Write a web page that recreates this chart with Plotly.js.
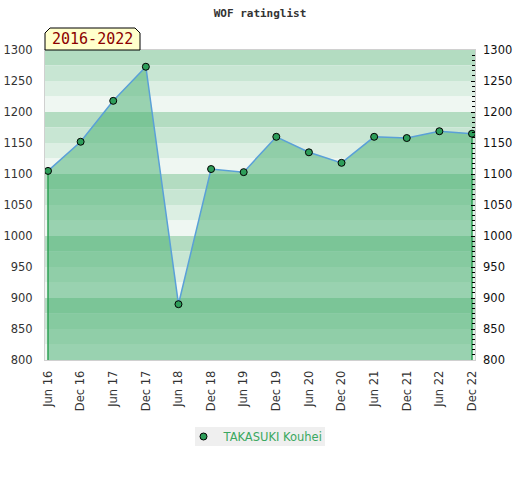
<!DOCTYPE html>
<html>
<head>
<meta charset="utf-8">
<script src="https://cdn.plot.ly/plotly-3.0.1.min.js"></script>
<style>html,body{margin:0;padding:0;background:#fff}</style>
</head>
<body>
<div id="chart" style="width:520px;height:480px"></div>
<script>
var periods = ["Jun 16","Dec 16","Jun 17","Dec 17","Jun 18","Dec 18","Jun 19","Dec 19","Jun 20","Dec 20","Jun 21","Dec 21","Jun 22","Dec 22"];
var ratings = [1105,1152,1218,1273,890,1108,1103,1160,1135,1118,1160,1158,1169,1165];
var playerName = "TAKASUKI Kouhei";
var yMin = 800, yMax = 1300;

var xs = periods.map(function(_, i){ return i; });
var bandColors = ["#b3dcc1","#c8e6d3","#dcefe3","#eff7f2"];
var shapes = [];
for (var u = yMax, k = 0; u > yMin; u -= 25, k++) {
  shapes.push({type:"rect", xref:"paper", yref:"y", x0:0, x1:1, y0:u-25, y1:u,
    fillcolor:bandColors[k % 4], line:{width:0}, layer:"below"});
}
var W = 430, H = 310;
// tab with cut corners (paper coords)
var tx1 = 95/W, ty0 = 1, ty1 = 1 + 22/H, cx = 5/W, cy = 5/H;
shapes.push({type:"path", xref:"paper", yref:"paper",
  path:"M0,"+ty0+" L0,"+(ty1-cy)+" L"+cx+","+ty1+" L"+(tx1-cx)+","+ty1+" L"+tx1+","+(ty1-cy)+" L"+tx1+","+ty0+" Z",
  fillcolor:"#ffffcc", line:{color:"#000", width:1}, layer:"above"});
// legend box
shapes.push({type:"rect", xref:"paper", yref:"paper", x0:150/W, x1:280/W, y0:-86/H, y1:-67/H,
  fillcolor:"#efefef", line:{width:0}, layer:"below"});

var last = xs.length - 1;
var traces = [
  {x:xs, y:ratings, type:"scatter", mode:"lines", fill:"tozeroy",
   fillcolor:"rgba(67,174,109,0.5)", line:{color:"#5aa0d8", width:1.5}, showlegend:false, hoverinfo:"skip"},
  {x:[xs[0], xs[0]], y:[yMin, ratings[0]], type:"scatter", mode:"lines",
   line:{color:"#2ea055", width:1.5}, showlegend:false, hoverinfo:"skip"},
  {x:[xs[last], xs[last]], y:[yMin, ratings[last]], type:"scatter", mode:"lines",
   line:{color:"#2ea055", width:1.5}, showlegend:false, hoverinfo:"skip"},
  {x:xs, y:ratings, type:"scatter", mode:"markers", name:playerName,
   marker:{color:"#2e9e5a", size:7, line:{color:"#000", width:1}}},
  {x:xs, y:ratings, type:"scatter", mode:"none", yaxis:"y2", showlegend:false, hoverinfo:"skip"}
];

var layout = {
  width:520, height:480,
  margin:{l:45, r:45, t:50, b:120, pad:0},
  paper_bgcolor:"#fff", plot_bgcolor:"#fff",
  title:{text:"WOF ratinglist", x:0.5, xanchor:"center", y:0.973, yanchor:"middle",
    font:{family:"DejaVu Sans Mono", size:11, color:"#333", weight:"bold"}},
  xaxis:{range:[-0.092, 13.092], tickmode:"array", tickvals:xs, ticktext:periods,
    tickangle:-90, tickfont:{family:"DejaVu Sans", size:11.5, color:"#333"},
    showgrid:false, zeroline:false, showline:true, linecolor:"#d0d0d0", linewidth:1, mirror:true,
    ticks:"", ticklabelstandoff:5},
  yaxis:{range:[yMin, yMax], dtick:50, tickfont:{family:"DejaVu Sans", size:11.5, color:"#333"},
    showgrid:false, zeroline:false,
    showline:true, linecolor:"#d0d0d0", linewidth:1, mirror:true, ticks:"", ticklabelstandoff:9},
  yaxis2:{range:[yMin, yMax], dtick:50, overlaying:"y", side:"right",
    tickfont:{family:"DejaVu Sans", size:11.5, color:"#111"},
    showgrid:false, zeroline:false, showline:false, ticks:"inside", ticklen:4, tickcolor:"#000", tickwidth:1,
    minor:{dtick:50/6, ticks:"inside", ticklen:3, tickcolor:"#000", tickwidth:1}, ticklabelstandoff:7},
  shapes:shapes,
  annotations:[{xref:"paper", yref:"paper", x:tx1/2, y:(ty0+ty1)/2, xanchor:"center", yanchor:"middle",
    text:"2016-2022", showarrow:false, font:{family:"DejaVu Sans Mono", size:15, color:"#8b0000"}}],
  legend:{orientation:"h", x:0.5 - 4/W, xanchor:"center", y:-76.5/H, yanchor:"middle",
    bgcolor:"rgba(0,0,0,0)", font:{family:"DejaVu Sans", size:11.5, color:"#3aa860"}, itemwidth:30},
  showlegend:true
};
Plotly.newPlot("chart", traces, layout, {displayModeBar:false, staticPlot:true});
</script>
</body>
</html>
